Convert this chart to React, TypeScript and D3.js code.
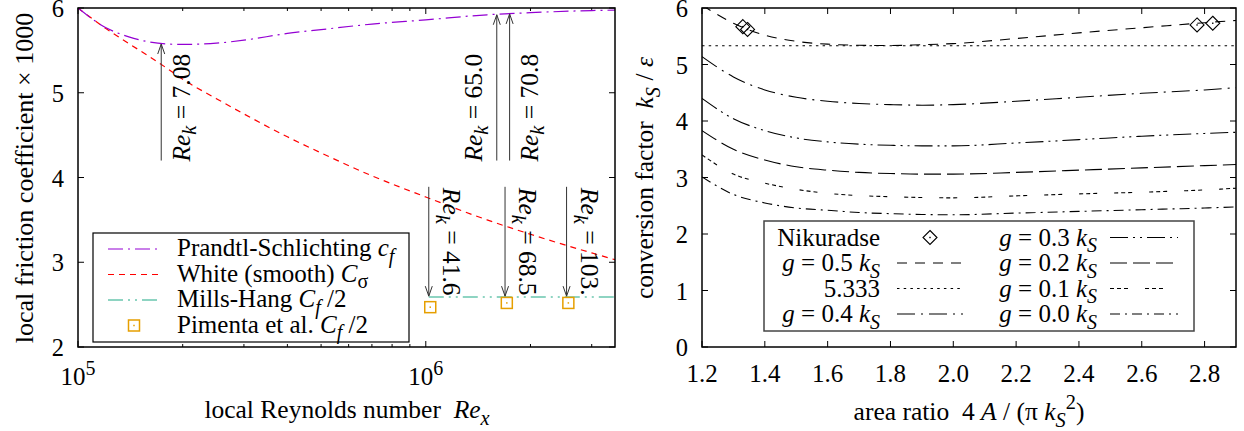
import React, { useEffect, useRef } from 'react';
import * as d3 from 'd3';

// ---- left panel: local friction coefficient x 1000 vs local Reynolds number
const reGrid = [1e5, 1.2e5, 1.4e5, 1.6e5, 1.8e5, 2e5, 2.5e5, 3e5, 4e5, 5e5, 7e5, 1e6, 1.5e6, 2e6, 3e6, 3.5e6];
const cfPrandtl = [6.0, 5.77, 5.66, 5.6, 5.575, 5.57, 5.585, 5.62, 5.7, 5.745, 5.81, 5.86, 5.92, 5.945, 5.97, 5.975];
const cfWhite = [6.0, 5.76, 5.58, 5.43, 5.29, 5.16, 4.93, 4.75, 4.48, 4.29, 4.02, 3.77, 3.5, 3.33, 3.11, 3.03];
const reMills = [1.02e6, 3.5e6];
const cfMills = [2.59, 2.59];
const rePimenta = [1.03e6, 1.71e6, 2.57e6];
const cfPimenta = [2.47, 2.52, 2.52];
const reUpArrows = [1.735e5, 1.6e6, 1.742e6];
const upArrowTip = [5.575, 5.92, 5.93];
const upArrowTail = 4.2;
const upLabels = ['7.08', '65.0', '70.8'];
const reDownArrows = [1.02e6, 1.69e6, 2.54e6];
const downArrowTail = 3.89;
const downArrowTip = 2.6;
const downLabels = ['41.6', '68.5', '103.'];
const leftYTicks = [2, 3, 4, 5, 6];
const leftXMajor = [1e5, 1e6];
const leftXMinor = [2e5, 3e5, 4e5, 5e5, 6e5, 7e5, 8e5, 9e5, 2e6, 3e6];

// ---- right panel: conversion factor vs area ratio
const areaRatio = [1.2, 1.3, 1.4, 1.5, 1.6, 1.7, 1.8, 1.9, 2.0, 2.2, 2.4, 2.6, 2.8, 2.9];
const g05 = [6.05, 5.73, 5.52, 5.41, 5.36, 5.34, 5.335, 5.35, 5.37, 5.46, 5.56, 5.65, 5.74, 5.78];
const const5333 = [5.333, 5.333, 5.333, 5.333, 5.333, 5.333, 5.333, 5.333, 5.333, 5.333, 5.333, 5.333, 5.333, 5.333];
const g04 = [5.14, 4.78, 4.55, 4.42, 4.35, 4.31, 4.29, 4.28, 4.29, 4.35, 4.42, 4.49, 4.55, 4.59];
const g03 = [4.4, 4.04, 3.83, 3.7, 3.63, 3.59, 3.57, 3.56, 3.56, 3.61, 3.67, 3.73, 3.78, 3.8];
const g02 = [3.83, 3.5, 3.31, 3.19, 3.13, 3.09, 3.07, 3.06, 3.06, 3.09, 3.13, 3.17, 3.21, 3.23];
const g01 = [3.4, 3.06, 2.9, 2.79, 2.72, 2.68, 2.66, 2.645, 2.64, 2.675, 2.71, 2.74, 2.78, 2.81];
const g00 = [3.01, 2.7, 2.55, 2.46, 2.42, 2.38, 2.36, 2.345, 2.34, 2.37, 2.4, 2.43, 2.46, 2.48];
const nikuradseX = [1.33, 1.345, 2.776, 2.826];
const nikuradseY = [5.67, 5.62, 5.7, 5.73];
const rightXTicks = [1.2, 1.4, 1.6, 1.8, 2.0, 2.2, 2.4, 2.6, 2.8];
const rightYTicks = [0, 1, 2, 3, 4, 5, 6];

const FONT = "'Liberation Serif', 'Times New Roman', Times, serif";

type Part = { t: string; i?: boolean; sub?: boolean; sup?: boolean };

// writes gnuplot-like enhanced text (italic, sub/superscripts) into a <text>
function rich(text: any, parts: Part[], size: number) {
  let shift = 0;
  parts.forEach((p) => {
    const target = p.sub ? 0.26 * size : p.sup ? -0.42 * size : 0;
    const ts = text.append('tspan').text(p.t);
    if (p.i) ts.style('font-style', 'italic');
    if (p.sub || p.sup) ts.style('font-size', size * 0.8 + 'px');
    if (target !== shift) ts.attr('dy', target - shift);
    shift = target;
  });
}

function label(parent: any, x: number, y: number, parts: Part[], size: number, anchor = 'start', rotate = 0) {
  const t = parent
    .append('text')
    .attr('transform', 'translate(' + x + ',' + y + ')' + (rotate ? ' rotate(' + rotate + ')' : ''))
    .style('font-family', FONT)
    .style('font-size', size + 'px')
    .attr('text-anchor', anchor)
    .style('white-space', 'pre')
    .attr('fill', '#000');
  rich(t, parts, size);
  return t;
}

export default function App() {
  const ref = useRef<SVGSVGElement>(null);

  useEffect(() => {
    const svg = d3.select(ref.current);
    svg.selectAll('*').remove();
    const defs = svg.append('defs');

    // ================= left panel =================
    const L = { left: 78, right: 615, top: 8, bottom: 347 };
    const xL = d3.scaleLog().domain([1e5, 3.5e6]).range([L.left, L.right]);
    const yL = d3.scaleLinear().domain([2, 6]).range([L.bottom, L.top]);
    defs.append('clipPath').attr('id', 'clipL').append('rect')
      .attr('x', L.left).attr('y', L.top).attr('width', L.right - L.left).attr('height', L.bottom - L.top);

    const gl = svg.append('g');

    // ticks
    const tick = (g: any, x1: number, y1: number, x2: number, y2: number) =>
      g.append('line').attr('x1', x1).attr('y1', y1).attr('x2', x2).attr('y2', y2)
        .attr('stroke', '#000').attr('stroke-width', 1);
    leftXMajor.forEach((v) => {
      tick(gl, xL(v), L.bottom, xL(v), L.bottom - 6);
      tick(gl, xL(v), L.top, xL(v), L.top + 6);
      const e = Math.round(Math.log10(v));
      label(gl, xL(v), 385, [{ t: '10' }, { t: String(e), sup: true }], 25, 'middle');
    });
    leftXMinor.forEach((v) => {
      tick(gl, xL(v), L.bottom, xL(v), L.bottom - 3);
      tick(gl, xL(v), L.top, xL(v), L.top + 3);
    });
    leftYTicks.forEach((v) => {
      tick(gl, L.left, yL(v), L.left + 6, yL(v));
      tick(gl, L.right, yL(v), L.right - 6, yL(v));
      label(gl, 64, yL(v) + 9, [{ t: String(v) }], 24.5, 'end');
    });

    const lineL = d3.line<[number, number]>().x((d) => xL(d[0])).y((d) => yL(d[1])).curve(d3.curveMonotoneX);
    const curvesL = gl.append('g').attr('clip-path', 'url(#clipL)');
    const prandtlStyle = { color: '#9400d3', dash: '15,5,2,5' };
    const whiteStyle = { color: '#ff0000', dash: '6,5' };
    const millsStyle = { color: '#1fa985', dash: '15,5,2,5,2,5' };
    curvesL.append('path').datum(d3.zip(reGrid, cfWhite) as [number, number][])
      .attr('d', lineL).attr('fill', 'none').attr('stroke', whiteStyle.color)
      .attr('stroke-width', 1.2).attr('stroke-dasharray', whiteStyle.dash);
    curvesL.append('path').datum(d3.zip(reGrid, cfPrandtl) as [number, number][])
      .attr('d', lineL).attr('fill', 'none').attr('stroke', prandtlStyle.color)
      .attr('stroke-width', 1.2).attr('stroke-dasharray', prandtlStyle.dash);
    curvesL.append('path').datum(d3.zip(reMills, cfMills) as [number, number][])
      .attr('d', lineL).attr('fill', 'none').attr('stroke', millsStyle.color)
      .attr('stroke-width', 1.2).attr('stroke-dasharray', millsStyle.dash);

    const square = (g: any, x: number, y: number) => {
      g.append('rect').attr('x', x - 5.5).attr('y', y - 5.5).attr('width', 11).attr('height', 11)
        .attr('fill', 'none').attr('stroke', '#e69f00').attr('stroke-width', 1.5);
      g.append('rect').attr('x', x - 0.75).attr('y', y - 0.75).attr('width', 1.5).attr('height', 1.5).attr('fill', '#e69f00');
    };
    rePimenta.forEach((r, i) => square(gl, xL(r), yL(cfPimenta[i])));

    // arrows
    const arrowColor = '#333';
    const arrow = (g: any, x: number, y0: number, y1: number) => {
      g.append('line').attr('x1', x).attr('y1', y0).attr('x2', x).attr('y2', y1)
        .attr('stroke', arrowColor).attr('stroke-width', 1);
      const dir = y1 < y0 ? 1 : -1;
      g.append('path')
        .attr('d', 'M' + (x - 3.5) + ',' + (y1 + dir * 10) + 'L' + x + ',' + y1 + 'L' + (x + 3.5) + ',' + (y1 + dir * 10))
        .attr('fill', 'none').attr('stroke', arrowColor).attr('stroke-width', 1);
    };
    const upOffsets = [28.5, -15, 28];
    reUpArrows.forEach((r, i) => {
      const x = xL(r);
      arrow(gl, x, yL(upArrowTail), yL(upArrowTip[i]));
      label(gl, x + upOffsets[i], yL(upArrowTail) + 1,
        [{ t: 'Re', i: true }, { t: 'k', i: true, sub: true }, { t: ' = ' + upLabels[i] }], 25.5, 'start', -90);
    });
    reDownArrows.forEach((r, i) => {
      const x = xL(r);
      arrow(gl, x, yL(downArrowTail), yL(downArrowTip));
      label(gl, x + 14, yL(downArrowTail) + 1,
        [{ t: 'Re', i: true }, { t: 'k', i: true, sub: true }, { t: ' = ' + downLabels[i] }], 25.5, 'start', 90);
    });

    // legend
    gl.append('rect').attr('x', 93).attr('y', 233).attr('width', 316).attr('height', 109)
      .attr('fill', '#fff').attr('stroke', '#000').attr('stroke-width', 1.2);
    const legL: { parts: Part[]; style?: { color: string; dash: string } }[] = [
      { parts: [{ t: 'Prandtl-Schlichting ' }, { t: 'c', i: true }, { t: 'f', i: true, sub: true }], style: prandtlStyle },
      { parts: [{ t: 'White (smooth) ' }, { t: 'C', i: true }, { t: 'σ', sub: true }], style: whiteStyle },
      { parts: [{ t: 'Mills-Hang ' }, { t: 'C', i: true }, { t: 'f', i: true, sub: true }, { t: ' /2' }], style: millsStyle },
      { parts: [{ t: 'Pimenta et al. ' }, { t: 'C', i: true }, { t: 'f', i: true, sub: true }, { t: ' /2' }] },
    ];
    legL.forEach((e, i) => {
      const cy = 249 + i * 25.5;
      if (e.style) {
        gl.append('line').attr('x1', 108).attr('x2', 160).attr('y1', cy).attr('y2', cy)
          .attr('stroke', e.style.color).attr('stroke-width', 1.2).attr('stroke-dasharray', e.style.dash);
      } else {
        square(gl, 134, cy);
      }
      label(gl, 177, cy + 7, e.parts, 25, 'start');
    });

    gl.append('rect').attr('x', L.left).attr('y', L.top).attr('width', L.right - L.left).attr('height', L.bottom - L.top)
      .attr('fill', 'none').attr('stroke', '#000').attr('stroke-width', 1.5);

    label(gl, 33, 178, [{ t: 'local friction coefficient × 1000' }], 26, 'middle', -90);
    label(gl, 347, 418, [{ t: 'local Reynolds number  ' }, { t: 'Re', i: true }, { t: 'x', i: true, sub: true }], 25.5, 'middle');

    // ================= right panel =================
    const R = { left: 702, right: 1236, top: 8, bottom: 347 };
    const xR = d3.scaleLinear().domain([1.2, 2.9]).range([R.left, R.right]);
    const yR = d3.scaleLinear().domain([0, 6]).range([R.bottom, R.top]);
    defs.append('clipPath').attr('id', 'clipR').append('rect')
      .attr('x', R.left).attr('y', R.top).attr('width', R.right - R.left).attr('height', R.bottom - R.top);
    const gr = svg.append('g');

    rightXTicks.forEach((v) => {
      tick(gr, xR(v), R.bottom, xR(v), R.bottom - 6);
      tick(gr, xR(v), R.top, xR(v), R.top + 6);
      label(gr, xR(v), 382, [{ t: v.toFixed(1) }], 25, 'middle');
    });
    rightYTicks.forEach((v) => {
      tick(gr, R.left, yR(v), R.left + 6, yR(v));
      tick(gr, R.right, yR(v), R.right - 6, yR(v));
      label(gr, 688, yR(v) + 9, [{ t: String(v) }], 24.5, 'end');
    });

    const lineR = d3.line<[number, number]>().x((d) => xR(d[0])).y((d) => yR(d[1])).curve(d3.curveMonotoneX);
    const series = [
      { ys: g05, dash: '10,8', parts: 'g = 0.5 ' },
      { ys: const5333, dash: '2.5,4.2', parts: '5.333' },
      { ys: g04, dash: '18,6,2,6', parts: 'g = 0.4 ' },
      { ys: g03, dash: '18,5,2,5,2,5', parts: 'g = 0.3 ' },
      { ys: g02, dash: '17,6', parts: 'g = 0.2 ' },
      { ys: g01, dash: '4,3,4,3,4,17', parts: 'g = 0.1 ' },
      { ys: g00, dash: '10,5,2,5', parts: 'g = 0.0 ' },
    ];
    const curvesR = gr.append('g').attr('clip-path', 'url(#clipR)');
    series.forEach((s) => {
      curvesR.append('path').datum(d3.zip(areaRatio, s.ys) as [number, number][])
        .attr('d', lineR).attr('fill', 'none').attr('stroke', '#000')
        .attr('stroke-width', 1.1).attr('stroke-dasharray', s.dash);
    });
    const diamond = (g: any, x: number, y: number) => {
      g.append('path').attr('d', 'M' + x + ',' + (y - 7) + 'L' + (x + 7) + ',' + y + 'L' + x + ',' + (y + 7) + 'L' + (x - 7) + ',' + y + 'Z')
        .attr('fill', 'none').attr('stroke', '#000').attr('stroke-width', 1.1);
      g.append('rect').attr('x', x - 0.7).attr('y', y - 0.7).attr('width', 1.4).attr('height', 1.4).attr('fill', '#000');
    };
    nikuradseX.forEach((x, i) => diamond(gr, xR(x), yR(nikuradseY[i])));

    // legend
    gr.append('rect').attr('x', 764).attr('y', 221).attr('width', 430).attr('height', 110)
      .attr('fill', '#fff').attr('stroke', '#444').attr('stroke-width', 1.5);
    const gParts = (s: string): Part[] =>
      s.startsWith('g')
        ? [{ t: 'g', i: true }, { t: s.slice(1) }, { t: 'k', i: true }, { t: 'S', i: true, sub: true }]
        : [{ t: s }];
    const cols = [
      { textX: 880, x1: 897, x2: 963, items: [null, series[0], series[1], series[2]] },
      { textX: 1097, x1: 1110, x2: 1178, items: [series[3], series[4], series[5], series[6]] },
    ];
    cols.forEach((c) => {
      c.items.forEach((s, i) => {
        const cy = 237.5 + i * 25.5;
        if (!s) {
          label(gr, c.textX, cy + 8, [{ t: 'Nikuradse' }], 25, 'end');
          diamond(gr, (c.x1 + c.x2) / 2, cy);
        } else {
          label(gr, c.textX, cy + 8, gParts(s.parts), 25, 'end');
          gr.append('line').attr('x1', c.x1).attr('x2', c.x2).attr('y1', cy).attr('y2', cy)
            .attr('stroke', '#000').attr('stroke-width', 1.1).attr('stroke-dasharray', s.dash);
        }
      });
    });

    gr.append('rect').attr('x', R.left).attr('y', R.top).attr('width', R.right - R.left).attr('height', R.bottom - R.top)
      .attr('fill', 'none').attr('stroke', '#000').attr('stroke-width', 1.5);

    label(gr, 653, 178, [{ t: 'conversion factor  ' }, { t: 'k', i: true }, { t: 'S', i: true, sub: true }, { t: ' / ' }, { t: 'ε', i: true }], 25.5, 'middle', -90);
    label(gr, 969, 420, [
      { t: 'area ratio  4 ' }, { t: 'A', i: true }, { t: ' / (π ' }, { t: 'k', i: true },
      { t: 'S', i: true, sub: true }, { t: '2', sup: true }, { t: ')' },
    ], 25.5, 'middle');
  }, []);

  return (
    <svg
      ref={ref}
      width={1244}
      height={431}
      style={{ position: 'absolute', left: 0, top: 0, background: '#fff', display: 'block' }}
    />
  );
}
